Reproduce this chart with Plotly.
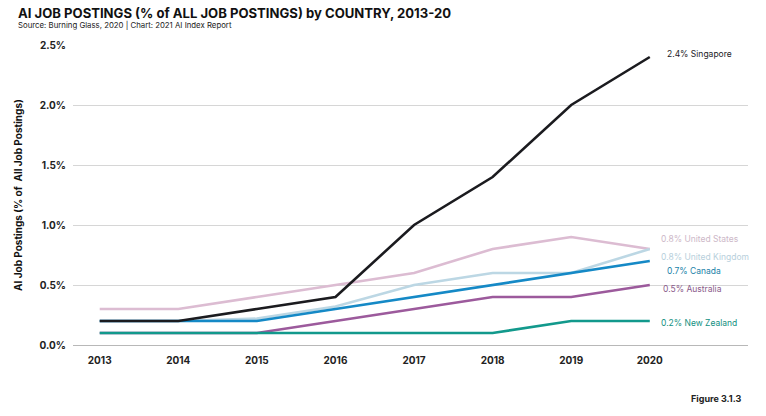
import plotly.graph_objects as go

years = [2013, 2014, 2015, 2016, 2017, 2018, 2019, 2020]
countries = ["Singapore", "United States", "United Kingdom", "Canada", "Australia", "New Zealand"]
singapore = [0.2, 0.2, 0.3, 0.4, 1.0, 1.4, 2.0, 2.4]
united_states = [0.3, 0.3, 0.4, 0.5, 0.6, 0.8, 0.9, 0.8]
united_kingdom = [0.2, 0.2, 0.22, 0.32, 0.5, 0.6, 0.6, 0.8]
canada = [0.2, 0.2, 0.2, 0.3, 0.4, 0.5, 0.6, 0.7]
australia = [0.1, 0.1, 0.1, 0.2, 0.3, 0.4, 0.4, 0.5]
new_zealand = [0.1, 0.1, 0.1, 0.1, 0.1, 0.1, 0.2, 0.2]
y_ticks = [0.0, 0.5, 1.0, 1.5, 2.0, 2.5]
y_tick_labels = ["0.0%", "0.5%", "1.0%", "1.5%", "2.0%", "2.5%"]

series = [united_states, united_kingdom, australia, new_zealand, canada, singapore]
names = ["United States", "United Kingdom", "Australia", "New Zealand", "Canada", "Singapore"]
colors = {
    "Singapore": "#1b1b1f",
    "United States": "#dcbcd2",
    "United Kingdom": "#bcd7e4",
    "Canada": "#1589c6",
    "Australia": "#9c5a9c",
    "New Zealand": "#12998c",
}
label_colors = {
    "Singapore": "#1b1b1f",
    "United States": "#cdb8c8",
    "United Kingdom": "#b8d0dc",
    "Canada": "#1a7fa8",
    "Australia": "#8a5a8a",
    "New Zealand": "#12907f",
}
label_shift = {
    "Singapore": 3, "United States": 10, "United Kingdom": -8,
    "Canada": -10, "Australia": -4, "New Zealand": -2,
}
label_x = {
    "Singapore": 2020.2, "United States": 2020.12, "United Kingdom": 2020.12,
    "Canada": 2020.2, "Australia": 2020.14, "New Zealand": 2020.12,
}

font = "Inter, Open Sans, sans-serif"
fig = go.Figure()
for vals, name in zip(series, names):
    fig.add_trace(go.Scatter(x=years, y=vals, mode="lines", name=name,
                             line=dict(color=colors[name], width=2.6)))

data = dict(zip(names, series))
for name in countries:
    v = data[name][-1]
    fig.add_annotation(x=label_x[name], y=v, text=f"{v:.1f}% {name}", showarrow=False,
                       xanchor="left", yanchor="middle", yshift=label_shift[name],
                       font=dict(family=font, size=8.5, color=label_colors[name]))

fig.add_annotation(xref="paper", yref="paper", x=-0.0844, y=1.108, xanchor="left", yanchor="middle",
                   text="<b>AI JOB POSTINGS (% of ALL JOB POSTINGS) by COUNTRY, 2013-20</b>",
                   showarrow=False, font=dict(family=font, size=13.1, color="#111"))
fig.add_annotation(xref="paper", yref="paper", x=-0.0844, y=1.067, xanchor="left", yanchor="middle",
                   text="Source: Burning Glass, 2020 | Chart: 2021 AI Index Report",
                   showarrow=False, font=dict(family=font, size=7.8, color="#222"))
fig.add_annotation(xref="paper", yref="paper", x=0.993, y=-0.177, xanchor="right", yanchor="middle",
                   text="<b>Figure 3.1.3</b>", showarrow=False,
                   font=dict(family=font, size=9, color="#222"))
fig.add_annotation(xref="paper", yref="paper", x=-0.0815, y=0.5, xanchor="center", yanchor="middle",
                   textangle=-90, text="<b>AI Job Postings (% of  All Job Postings)</b>",
                   showarrow=False, font=dict(family=font, size=10, color="#111"))

fig.update_layout(
    width=766, height=416,
    margin=dict(l=73, r=18, t=45, b=71),
    paper_bgcolor="white", plot_bgcolor="white",
    showlegend=False,
    font=dict(family=font, color="#222"),
    xaxis=dict(range=[2012.66, 2021.25], tickvals=years, ticktext=[f"<b>{y}</b>" for y in years],
               showgrid=False, zeroline=False, ticks="", showline=False,
               tickfont=dict(family=font, size=10, color="#222"), ticklabelstandoff=8),
    yaxis=dict(range=[0, 2.5], tickvals=y_ticks, ticktext=[f"<b>{t}</b>" for t in y_tick_labels],
               showgrid=True, gridcolor="#d6d6d6", gridwidth=1, zeroline=True,
               zerolinecolor="#b8b8b8", zerolinewidth=1.2,
               tickfont=dict(family=font, size=10, color="#222"), ticklabelstandoff=6),
)
fig.write_html("out.html", config={"displayModeBar": False},
               post_script="document.body.style.margin='0';")
